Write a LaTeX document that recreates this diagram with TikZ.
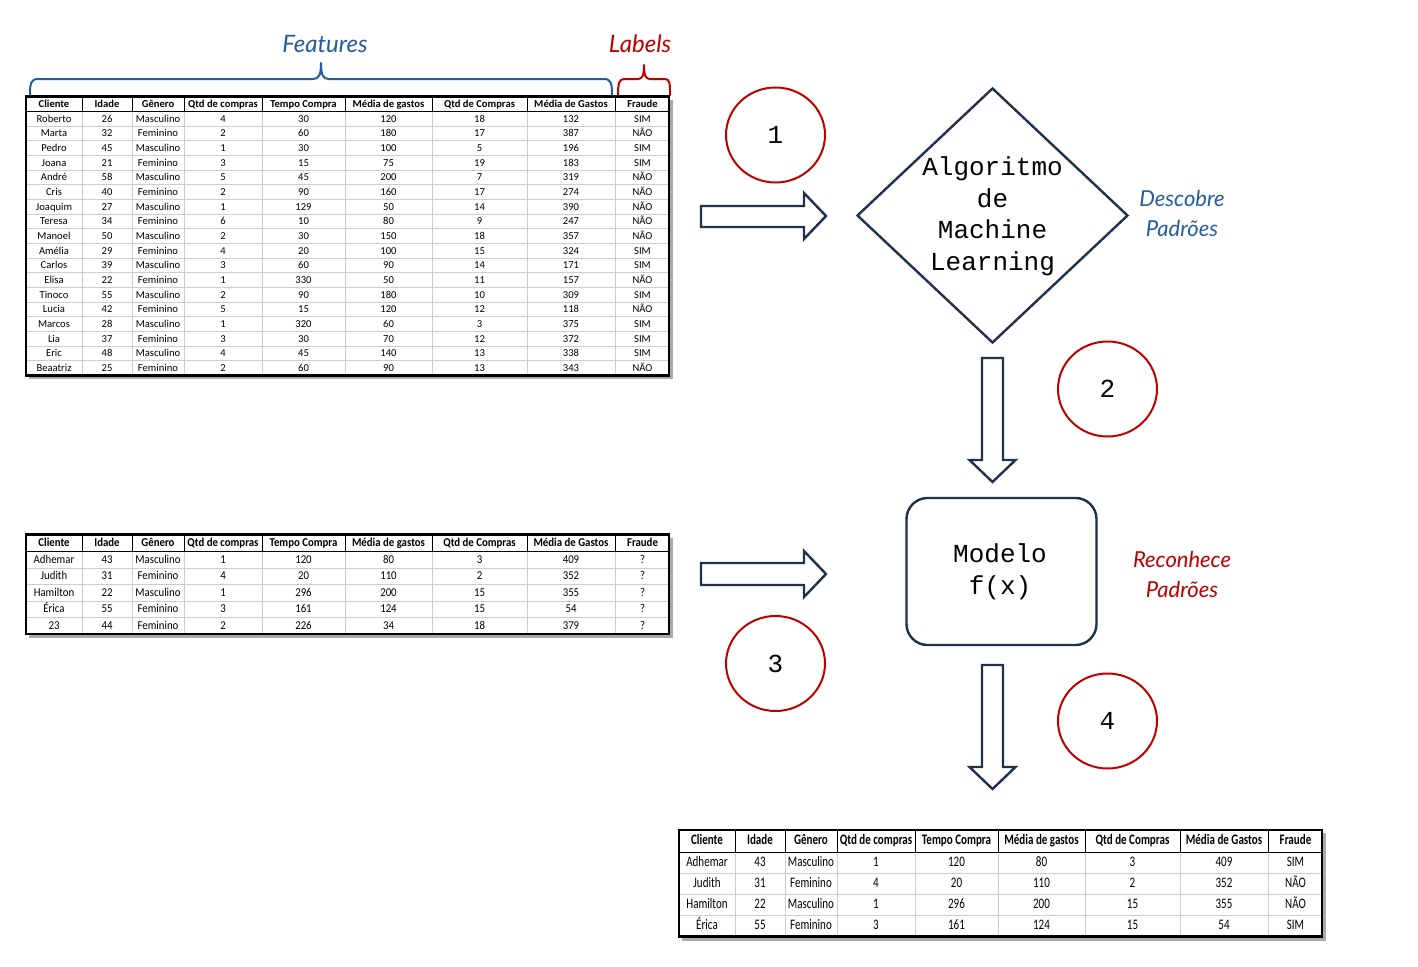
\documentclass[tikz,border=0pt]{standalone}
\usepackage{fontspec}
\setmainfont{Carlito}
\newfontfamily\cellfont{Carlito}
\newfontfamily\narrowA[FakeStretch=0.9]{Carlito}
\newfontfamily\narrowB[FakeStretch=0.76]{Carlito}
\newfontfamily\monofont{Liberation Mono}
\newfontfamily\handfont{Lato}
\usetikzlibrary{shapes.geometric}
\definecolor{featblue}{RGB}{38,92,155}
\definecolor{labred}{RGB}{192,0,0}
\definecolor{navy}{RGB}{32,50,74}
\definecolor{gridgray}{RGB}{205,205,205}
\definecolor{shadowgray}{RGB}{170,170,170}
\tikzset{
  gridline/.style={draw=gridgray, line width=0.8pt},
  headline/.style={draw=black, line width=0.8pt},
  tframe/.style={draw=black, line width=2.8pt},
  cell/.style={inner sep=0pt, text height=0.68em, text depth=0.18em, anchor=center},
  numcircle/.style={ellipse, draw=labred, line width=2pt, minimum width=99pt, minimum height=95pt, inner sep=0pt, font=\fontsize{26}{30}\selectfont\monofont},
  blockarrow/.style={draw=navy, line width=2.4pt, fill=white, line join=miter},
  hand/.style={font=\fontsize{22}{30}\selectfont\handfont\itshape, align=center},
  brace/.style={line width=2pt, line cap=round, line join=round},
}
\def\colctr{{28,81,132,197,277.5,362.5,453.5,545,616.5}}
\newcommand\mktable[8]{%
\begin{scope}[shift={(#2,#3)}]
 \pgfmathsetmacro\tH{#4+#6*#5}
 \fill[shadowgray] (3,3) rectangle (647,\tH+4);
 \fill[white] (0,0) rectangle (643,\tH);
 \foreach \i in {2,...,#6} {\draw[gridline] (0,#4+\i*#5-#5) -- (643,#4+\i*#5-#5);}
 \foreach \b in {56,106,158,236,319,406,501,589} {\draw[gridline] (\b,#4) -- (\b,\tH); \draw[headline] (\b,0) -- (\b,#4);}
 \draw[headline] (0,#4) -- (643,#4);
 \draw[tframe] (0,0) rectangle (643,\tH);
 \foreach \h [count=\c] in {Cliente,Idade,Gênero,Qtd de compras,Tempo Compra,Média de gastos,Qtd de Compras,Média de Gastos,Fraude}
   {\pgfmathsetmacro\cx{\colctr[\c-1]}\node[cell,font={#7\bfseries}] (#1-h-\c) at (\cx,#4/2+1) {\h};}
 \foreach \row [count=\r] in {#8}
   {\foreach \v [count=\c] in \row
     {\pgfmathsetmacro\cx{\colctr[\c-1]}\node[cell,font={#7}] (#1-\r-\c) at (\cx,#4+\r*#5-#5/2+1) {\v};}}
\end{scope}}
\begin{document}
\begin{tikzpicture}[x=1pt,y=-1pt]
\useasboundingbox (0,0) rectangle (1418,966);
\fill[white] (0,0) rectangle (1418,966);

% ---- table 1 (training data)
\mktable{ta}{26}{96.5}{15}{14.65}{18}{\fontsize{10.6}{12}\selectfont\cellfont}{
{Roberto,26,Masculino,4,30,120,18,132,SIM},
{Marta,32,Feminino,2,60,180,17,387,NÃO},
{Pedro,45,Masculino,1,30,100,5,196,SIM},
{Joana,21,Feminino,3,15,75,19,183,SIM},
{André,58,Masculino,5,45,200,7,319,NÃO},
{Cris,40,Feminino,2,90,160,17,274,NÃO},
{Joaquim,27,Masculino,1,129,50,14,390,NÃO},
{Teresa,34,Feminino,6,10,80,9,247,NÃO},
{Manoel,50,Masculino,2,30,150,18,357,NÃO},
{Amélia,29,Feminino,4,20,100,15,324,SIM},
{Carlos,39,Masculino,3,60,90,14,171,SIM},
{Elisa,22,Feminino,1,330,50,11,157,NÃO},
{Tinoco,55,Masculino,2,90,180,10,309,SIM},
{Lucia,42,Feminino,5,15,120,12,118,NÃO},
{Marcos,28,Masculino,1,320,60,3,375,SIM},
{Lia,37,Feminino,3,30,70,12,372,SIM},
{Eric,48,Masculino,4,45,140,13,338,SIM},
{Beaatriz,25,Feminino,2,60,90,13,343,NÃO}}

% ---- table 2 (new data)
\mktable{tb}{26}{534.5}{17}{16.5}{5}{\fontsize{12}{13}\selectfont\narrowA}{
{Adhemar,43,Masculino,1,120,80,3,409,?},
{Judith,31,Feminino,4,20,110,2,352,?},
{Hamilton,22,Masculino,1,296,200,15,355,?},
{Érica,55,Feminino,3,161,124,15,54,?},
{23,44,Feminino,2,226,34,18,379,?}}

% ---- table 3 (predictions)
\mktable{tc}{679}{830}{22}{21.2}{4}{\fontsize{14.5}{16}\selectfont\narrowB}{
{Adhemar,43,Masculino,1,120,80,3,409,SIM},
{Judith,31,Feminino,4,20,110,2,352,NÃO},
{Hamilton,22,Masculino,1,296,200,15,355,NÃO},
{Érica,55,Feminino,3,161,124,15,54,SIM}}

% ---- braces and their labels
\draw[brace, featblue] (30,95) .. controls (30,83) and (31,79) .. (38,79) -- (313,79)
   .. controls (319,79) and (321,75) .. (321,63)
   .. controls (321,75) and (323,79) .. (329,79) -- (604,79)
   .. controls (611,79) and (612,83) .. (612,95);
\draw[brace, labred] (618,95) .. controls (618,84) and (619,79) .. (624,79) -- (638,79)
   .. controls (642,79) and (644,76) .. (644,65)
   .. controls (644,76) and (646,79) .. (650,79) -- (665,79)
   .. controls (670,79) and (670,84) .. (670,95);
\node[hand, font=\fontsize{24}{28}\selectfont\handfont\itshape, text=featblue] (feat) at (325,44) {Features};
\node[hand, font=\fontsize{24}{28}\selectfont\handfont\itshape, text=labred] (lab) at (640,44) {Labels};

% ---- algorithm and model
\node[diamond, draw=navy, line width=2.4pt, minimum width=271pt, minimum height=255pt, inner sep=0pt] (alg) at (992.5,215.5) {};
\node[align=center, font=\fontsize{26}{31.5}\selectfont\monofont, inner sep=0pt] (algtxt) at (992.5,216.5) {Algoritmo\\de\\Machine\\Learning};
\node[draw=navy, line width=2.4pt, rounded corners=21pt, minimum width=190pt, minimum height=147pt] (model) at (1001.5,571.5) {};
\node[align=center, font=\fontsize{26}{32}\selectfont\monofont, inner sep=0pt] (modeltxt) at (1000,572) {Modelo\\f(x)};

\node[hand, text=featblue] (desc) at (1182,213) {Descobre\\Padrões};
\node[hand, text=labred] (recon) at (1182,574) {Reconhece\\Padrões};

% ---- numbered circles
\node[numcircle] (c1) at (775.5,135) {1};
\node[numcircle] (c2) at (1107.5,389) {2};
\node[numcircle] (c3) at (775.5,663.5) {3};
\node[numcircle] (c4) at (1107.5,721) {4};

% ---- block arrows
\draw[blockarrow] (701,206) -- (804,206) -- (804,193) -- (826,216) -- (804,239) -- (804,227) -- (701,227) -- cycle;
\draw[blockarrow] (701,563) -- (804,563) -- (804,551) -- (826,574) -- (804,597) -- (804,585) -- (701,585) -- cycle;
\draw[blockarrow] (982,358) -- (1003,358) -- (1003,460) -- (1015.5,460) -- (992.5,482) -- (969.5,460) -- (982,460) -- cycle;
\draw[blockarrow] (982,665) -- (1003,665) -- (1003,767) -- (1015.5,767) -- (992.5,789) -- (969.5,767) -- (982,767) -- cycle;
\end{tikzpicture}
\end{document}
